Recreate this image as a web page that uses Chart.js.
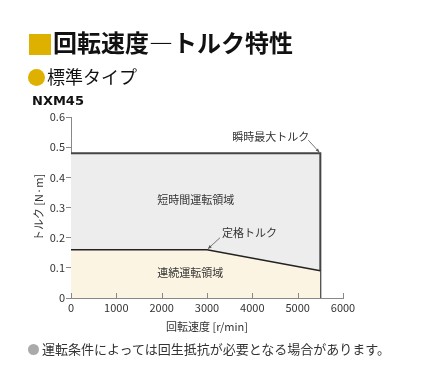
<!DOCTYPE html>
<html>
<head>
<meta charset="utf-8">
<script src="https://cdn.jsdelivr.net/npm/chart.js@4/dist/chart.umd.min.js"></script>
<style>
    html, body { margin: 0; padding: 0; background: #fff; }
    body { width: 422px; height: 384px; position: relative; overflow: hidden; font-family: "Noto Sans CJK JP", sans-serif; color: #222; }
    #wrap { position: absolute; left: 0; top: 0; width: 422px; height: 384px; }
    .abs { position: absolute; white-space: nowrap; }
    .title { left: 29px; top: 27px; font-size: 24px; font-weight: bold; line-height: 30px; color: #111; }
    .title .sq { display: inline-block; width: 22px; height: 21px; background: #deb100; vertical-align: -3px; margin-right: 2px; }
    .sub { left: 28px; top: 63px; font-size: 18px; line-height: 26px; color: #111; }
    .sub .dot { display: inline-block; width: 17px; height: 17px; border-radius: 50%; background: #deb100; vertical-align: -2px; margin-right: 2px; }
    .model { left: 32px; top: 93px; font-family: "DejaVu Sans", sans-serif; font-weight: bold; font-size: 13px; line-height: 16px; color: #111; }
    .note { left: 28px; top: 340px; font-size: 13px; line-height: 18px; color: #333; }
    .note .dot { display: inline-block; width: 11px; height: 11px; border-radius: 50%; background: #aaa; vertical-align: -1px; margin-right: 3px; }
</style>
</head>
<body>
<div id="wrap"><canvas id="chart" width="422" height="384"></canvas></div>
<div class="abs title"><span class="sq"></span>回転速度―トルク特性</div>
<div class="abs sub"><span class="dot"></span>標準タイプ</div>
<div class="abs model">NXM45</div>
<div class="abs note"><span class="dot"></span>運転条件によっては回生抵抗が必要となる場合があります。</div>
<script>
const speedTicks = [0, 1000, 2000, 3000, 4000, 5000, 6000];
const torqueTicks = [0, 0.1, 0.2, 0.3, 0.4, 0.5, 0.6];

// 瞬時最大トルク (short-time region outline)
const maxSpeed = [0, 5500, 5500];
const maxTorque = [0.48, 0.48, 0];

// 定格トルク (continuous region)
const ratedSpeed = [0, 3000, 5500];
const ratedTorque = [0.16, 0.16, 0.09];

const regionLabels = [
    { text: '短時間運転領域', x: 2750, y: 0.325, align: 'center' },
    { text: '連続運転領域', x: 1900, y: 0.083, align: 'left' },
];

const FONT = '"Liberation Sans Narrow", "Noto Sans CJK JP", sans-serif';

const annotate = {
    id: 'annotate',
    afterDatasetsDraw(chart) {
        const { ctx, scales: { x, y } } = chart;
        ctx.save();
        // inward ticks on x axis
        ctx.strokeStyle = '#888';
        ctx.lineWidth = 1;
        speedTicks.forEach((v) => {
            const px = Math.round(x.getPixelForValue(v)) + 0.5;
            ctx.beginPath();
            ctx.moveTo(px, y.bottom);
            ctx.lineTo(px, y.bottom - 5);
            ctx.stroke();
        });

        ctx.fillStyle = '#333';
        ctx.font = '11px ' + FONT;
        ctx.textBaseline = 'middle';
        regionLabels.forEach((l) => {
            ctx.textAlign = l.align;
            ctx.fillText(l.text, x.getPixelForValue(l.x), y.getPixelForValue(l.y));
        });

        // leader: 瞬時最大トルク
        const mx = x.getPixelForValue(5500), my = y.getPixelForValue(0.48);
        ctx.textAlign = 'right';
        ctx.fillText('瞬時最大トルク', mx - 11, my - 16);
        leader(ctx, mx - 12, my - 13, mx - 1, my - 1);

        // leader: 定格トルク
        const rx = x.getPixelForValue(3000), ry = y.getPixelForValue(0.16);
        ctx.textAlign = 'left';
        ctx.fillText('定格トルク', rx + 15, ry - 17);
        leader(ctx, rx + 13, ry - 12, rx + 1, ry - 1);
        ctx.restore();
    },
};

function leader(ctx, x1, y1, x2, y2) {
    ctx.strokeStyle = '#555';
    ctx.lineWidth = 0.8;
    ctx.beginPath();
    ctx.moveTo(x1, y1);
    ctx.lineTo(x2, y2);
    ctx.stroke();
    const a = Math.atan2(y2 - y1, x2 - x1);
    ctx.fillStyle = '#555';
    ctx.beginPath();
    ctx.moveTo(x2, y2);
    ctx.lineTo(x2 - 4 * Math.cos(a - 0.4), y2 - 4 * Math.sin(a - 0.4));
    ctx.lineTo(x2 - 4 * Math.cos(a + 0.4), y2 - 4 * Math.sin(a + 0.4));
    ctx.closePath();
    ctx.fill();
    ctx.fillStyle = '#333';
}

new Chart(document.getElementById('chart'), {
    type: 'line',
    data: {
        datasets: [
            {
                data: ratedSpeed.map((s, i) => ({ x: s, y: ratedTorque[i] })),
                borderColor: '#222',
                borderWidth: 1.5,
                backgroundColor: '#fcf4e2',
                fill: 'origin',
                pointRadius: 0,
                tension: 0,
            },
            {
                data: maxSpeed.map((s, i) => ({ x: s, y: maxTorque[i] })),
                borderColor: '#444',
                borderWidth: 2,
                backgroundColor: '#ededed',
                fill: 'origin',
                pointRadius: 0,
                tension: 0,
            },
        ],
    },
    options: {
        responsive: false,
        animation: false,
        devicePixelRatio: 1,
        layout: { padding: { left: 30, top: 117, right: 79, bottom: 47 } },
        plugins: { legend: { display: false }, tooltip: { enabled: false } },
        scales: {
            x: {
                type: 'linear',
                min: 0, max: 6000,
                afterBuildTicks: (s) => { s.ticks = speedTicks.map((v) => ({ value: v })); },
                afterFit: (s) => { s.height = 39; },
                grid: { display: false, drawTicks: false },
                border: { display: true, color: '#888', width: 1 },
                ticks: { color: '#333', font: { family: FONT, size: 11 }, padding: 3, maxRotation: 0, autoSkip: false, callback: (v) => String(v) },
                title: { display: true, text: '回転速度 [r/min]', color: '#333', font: { family: FONT, size: 11 }, padding: { top: 3 } },
            },
            y: {
                min: 0, max: 0.6,
                afterBuildTicks: (s) => { s.ticks = torqueTicks.map((v) => ({ value: v })); },
                afterFit: (s) => { s.width = 41; },
                grid: { drawOnChartArea: false, tickLength: 5, color: '#888' },
                border: { display: true, color: '#888', width: 1 },
                ticks: { color: '#333', font: { family: FONT, size: 11 }, padding: 1, autoSkip: false, callback: (v) => (v === 0 ? '0' : v.toFixed(1)) },
                title: { display: true, text: 'トルク [N·m]', color: '#333', font: { family: FONT, size: 11 }, padding: { top: 2 } },
            },
        },
    },
    plugins: [annotate],
});
</script>
</body>
</html>
